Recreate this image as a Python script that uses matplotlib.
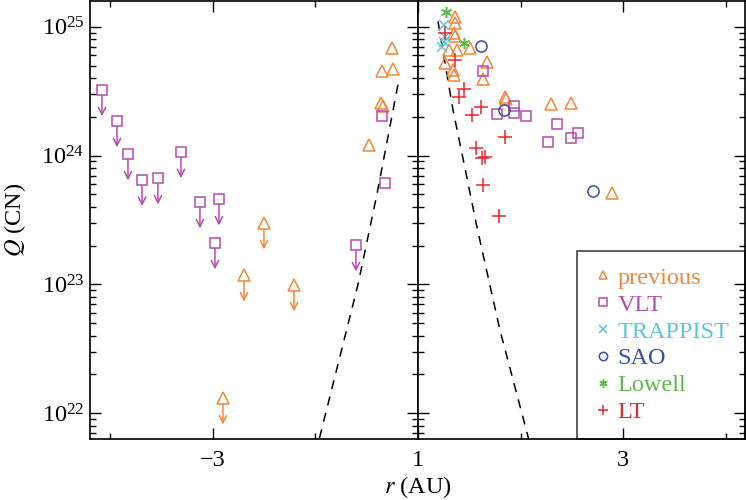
# CN production rate against heliocentric distance, pre- and post-perihelion
import matplotlib.pyplot as plt
import numpy as np

plt.rcParams['font.family'] = ['Liberation Serif', 'DejaVu Serif']
plt.rcParams['mathtext.fontset'] = 'stix'

# colours of the data sets
c_prev = '#F0883C'
c_vlt = '#B24CAC'
c_trap = '#5CC6D6'
c_sao = '#3A4EA4'
c_low = '#5CBA4A'
c_lt = '#E8262E'

# --- pre-perihelion (left panel, r < 0) ---
prev_pre_r = [-1.253, -1.351, -1.243, -1.360, -1.341, -1.477]
prev_pre_q = [6.9e24, 4.55e24, 4.7e24, 2.57e24, 2.43e24, 1.21e24]
prev_lim_r = [-2.500, -2.694, -2.207, -2.899]
prev_lim_q = [3.0e23, 1.18e23, 9.9e22, 1.31e22]
vlt_pre_r = [-1.351, -1.321]
vlt_pre_q = [2.03e24, 6.1e23]
vlt_lim_r = [-4.077, -3.931, -3.824, -3.687, -3.532, -3.308, -3.123, -2.938, -2.977, -1.604]
vlt_lim_q = [3.24e24, 1.86e24, 1.03e24, 6.5e23, 6.7e23, 1.07e24, 4.37e23, 4.6e23, 2.1e23, 2.02e23]
model_pre_r = [-1.195, -1.40, -1.584, -1.964]
model_pre_q = [3.55e24, 5.0e23, 1.0e23, 6.2e21]

# --- post-perihelion (right panel) ---
prev_post_r = [1.360, 1.360, 1.351, 1.360, 1.302, 1.380, 1.506, 1.263, 1.341,
               1.351, 1.672, 1.633, 1.847, 1.857, 2.295, 2.490, 2.889]
prev_post_q = [1.20e25, 1.07e25, 8.98e24, 8.5e24, 6.6e24, 6.6e24, 6.9e24, 5.2e24, 4.6e24,
               4.2e24, 5.3e24, 3.9e24, 2.86e24, 2.76e24, 2.52e24, 2.57e24, 5.1e23]
vlt_post_r = [1.633, 1.769, 1.935, 1.935, 2.052, 2.353, 2.266, 2.490, 2.558]
vlt_post_q = [4.55e24, 2.11e24, 2.43e24, 2.15e24, 2.03e24, 1.76e24, 1.28e24, 1.37e24, 1.50e24]
trap_r = [1.253, 1.263, 1.253, 1.234]
trap_q = [1.04e25, 8.4e24, 7.6e24, 7.0e24]
sao_r = [1.613, 1.837, 2.704]
sao_q = [7.1e24, 2.27e24, 5.3e23]
low_r = [1.273, 1.448]
low_q = [1.31e25, 7.5e24]
lt_r = [1.263, 1.360, 1.448, 1.399, 1.613, 1.526, 1.847, 1.565, 1.623, 1.652, 1.633, 1.789]
lt_q = [9.0e24, 5.5e24, 3.3e24, 2.86e24, 2.39e24, 2.07e24, 1.40e24, 1.15e24, 9.6e23,
        9.8e23, 5.9e23, 3.4e23]
model_post_r = [1.195, 1.341, 1.467, 1.574, 1.798, 2.08]
model_post_q = [1.1e25, 2.26e24, 7.35e23, 2.79e23, 4.43e22, 6.2e21]

fig = plt.figure(figsize=(7.46, 5), dpi=100)
ax1 = fig.add_axes([0.1206, 0.122, 0.4397, 0.876])
ax2 = fig.add_axes([0.5603, 0.122, 0.4383, 0.876])

# upper limits drawn as down arrows
def limits(ax, r, q, colour, marker, ms):
    for x, y in zip(r, q):
        ax.annotate('', xy=(x, y * 10 ** -0.205), xytext=(x, y),
                    arrowprops=dict(arrowstyle='->', color=colour, lw=1.1,
                                    shrinkA=0, shrinkB=0, mutation_scale=13))
    ax.plot(r, q, ls='none', marker=marker, ms=ms, mfc='white', mec=colour, mew=1.1, zorder=3)

# left panel
ax1.plot(model_pre_r, model_pre_q, 'k--', lw=1.1, dashes=(6, 5))
limits(ax1, vlt_lim_r, vlt_lim_q, c_vlt, 's', 7)
limits(ax1, prev_lim_r, prev_lim_q, c_prev, '^', 8.5)
ax1.plot(prev_pre_r, prev_pre_q, ls='none', marker='^', ms=8.5, mfc='none', mec=c_prev, mew=1.1)
ax1.plot(vlt_pre_r, vlt_pre_q, ls='none', marker='s', ms=7, mfc='none', mec=c_vlt, mew=1.1)

# right panel
ax2.plot(model_post_r, model_post_q, 'k--', lw=1.1, dashes=(6, 5))
ax2.plot(prev_post_r, prev_post_q, ls='none', marker='^', ms=8.5, mfc='none', mec=c_prev, mew=1.1, label='previous')
ax2.plot(vlt_post_r, vlt_post_q, ls='none', marker='s', ms=7, mfc='none', mec=c_vlt, mew=1.1, label='VLT')
ax2.plot(trap_r, trap_q, ls='none', marker='x', ms=7, mec=c_trap, mew=1.1, label='TRAPPIST')
ax2.plot(sao_r, sao_q, ls='none', marker='o', ms=8, mfc='none', mec=c_sao, mew=1.1, label='SAO')
ax2.plot(low_r, low_q, ls='none', marker=(6, 2, 0), ms=8, mec=c_low, mew=1.1, label='Lowell')
ax2.plot(lt_r, lt_q, ls='none', marker='+', ms=10, mec=c_lt, mew=1.1, label='LT')

for ax in (ax1, ax2):
    ax.set_yscale('log')
    ax.set_ylim(10 ** 21.8, 10 ** 25.2)
    ax.tick_params(which='both', direction='in', top=True, right=True, labelsize=17.5)
    ax.tick_params(which='major', length=8, width=1)
    ax.tick_params(which='minor', length=4.5, width=1)
    for s in ax.spines.values():
        s.set_linewidth(1.2)

ax1.set_xlim(-4.194, -1)
ax1.set_xticks([-3])
ax1.set_xticks([-4, -2], minor=True)
ax1.tick_params(axis='x', pad=8)
ax1.tick_params(axis='y', pad=4)

ax2.set_xlim(1, 4.184)
ax2.set_xticks([1, 3])
ax2.set_xticks([2, 4], minor=True)
ax2.tick_params(axis='x', pad=8)
ax2.tick_params(labelleft=False)

ax1.set_ylabel(r'$Q$ (CN)', fontsize=17.5)
ax1.yaxis.set_label_coords(-0.19, 0.5)
fig.text(418 / 746, 1 - 487 / 500, r'$r$ (AU)', fontsize=17.5, ha='center', va='center')

leg = ax2.legend(loc='lower right', borderaxespad=0, fancybox=False, edgecolor='black',
                 facecolor='none', handlelength=0.8, handletextpad=0.2, labelspacing=0.2,
                 borderpad=0.65, markerscale=0.75, fontsize=17.5)
leg.get_frame().set_linewidth(1.1)
for text, c in zip(leg.get_texts(), [c_prev, c_vlt, c_trap, c_sao, c_low, c_lt]):
    text.set_color(c)

plt.savefig('out.png', dpi=100)
